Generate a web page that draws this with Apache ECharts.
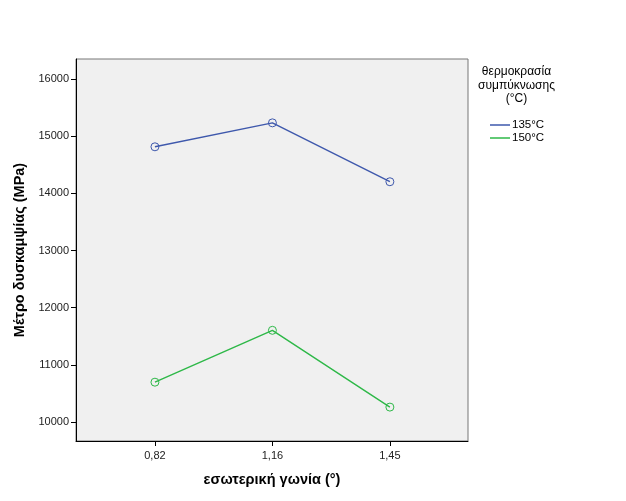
<!DOCTYPE html>
<html><head><meta charset="utf-8">
<script src="https://cdn.jsdelivr.net/npm/echarts@6/dist/echarts.min.js"></script>
<style>html,body{margin:0;padding:0;background:#fff}#c{width:626px;height:501px}</style>
</head><body><div id="c"></div>
<script>
const categories = ['0,82', '1,16', '1,45'];
const seriesNames = ['135°C', '150°C'];
const values135 = [14814, 15233, 14203];
const values150 = [10697, 11604, 10261];
const yTicks = [10000, 11000, 12000, 13000, 14000, 15000, 16000];

const FONT = 'Liberation Sans, Arial, sans-serif';
const chart = echarts.init(document.getElementById('c'), null, {renderer: 'canvas'});
const toData = arr => arr.map((v, i) => [i, v]);
const colors = ['#3e58ac', '#2eb848'];

chart.setOption({
  animation: false,
  backgroundColor: '#ffffff',
  grid: {left: 76, top: 59, width: 392, height: 382, show: true,
         backgroundColor: '#f0f0f0', borderColor: '#777', borderWidth: 1},
  xAxis: {
    type: 'value', min: -0.672, max: 2.665,
    splitLine: {show: false},
    axisLine: {show: true, onZero: false, lineStyle: {color: '#000', width: 1}},
    axisTick: {show: true, length: 5, customValues: [0, 1, 2], lineStyle: {color: '#000'}},
    axisLabel: {customValues: [0, 1, 2], formatter: v => categories[Math.round(v)] || '',
                color: '#222', fontFamily: FONT, fontSize: 11, margin: 9},
    name: 'εσωτερική γωνία (°)', nameLocation: 'middle', nameGap: 31,
    nameTextStyle: {fontFamily: FONT, fontSize: 14.5, fontWeight: 'bold', color: '#000'}
  },
  yAxis: {
    type: 'value', min: 9668, max: 16350,
    splitLine: {show: false},
    axisLine: {show: true, onZero: false, lineStyle: {color: '#000', width: 1}},
    axisTick: {show: true, length: 5, customValues: yTicks, lineStyle: {color: '#000'}},
    axisLabel: {customValues: yTicks, formatter: v => String(v), color: '#222', fontFamily: FONT, fontSize: 11, margin: 7},
    name: 'Μέτρο δυσκαμψίας (MPa)', nameLocation: 'middle', nameGap: 41,
    nameTextStyle: {fontFamily: FONT, fontSize: 14.5, fontWeight: 'bold', color: '#000'}
  },
  legend: {
    orient: 'vertical', left: 485, top: 114, itemWidth: 20, itemHeight: 1.5, itemGap: 1,
    icon: 'rect',
    textStyle: {fontFamily: FONT, fontSize: 11.5, color: '#000', padding: [0, 0, 0, -3]},
    data: seriesNames.map((n, i) => ({name: n, itemStyle: {color: colors[i], borderWidth: 0}}))
  },
  graphic: [{
    type: 'text', left: 478, top: 65,
    style: {text: 'θερμοκρασία\nσυμπύκνωσης\n(°C)', textAlign: 'center', x: 0,
            font: '12px ' + FONT, fill: '#000', lineHeight: 13.5}
  }],
  series: [
    {name: seriesNames[0], type: 'line', data: toData(values135), symbol: 'circle', symbolSize: 8,
     lineStyle: {color: colors[0], width: 1.4},
     itemStyle: {color: 'rgba(0,0,0,0)', borderColor: colors[0], borderWidth: 1}},
    {name: seriesNames[1], type: 'line', data: toData(values150), symbol: 'circle', symbolSize: 8,
     lineStyle: {color: colors[1], width: 1.4},
     itemStyle: {color: 'rgba(0,0,0,0)', borderColor: colors[1], borderWidth: 1}}
  ]
});
</script></body></html>
